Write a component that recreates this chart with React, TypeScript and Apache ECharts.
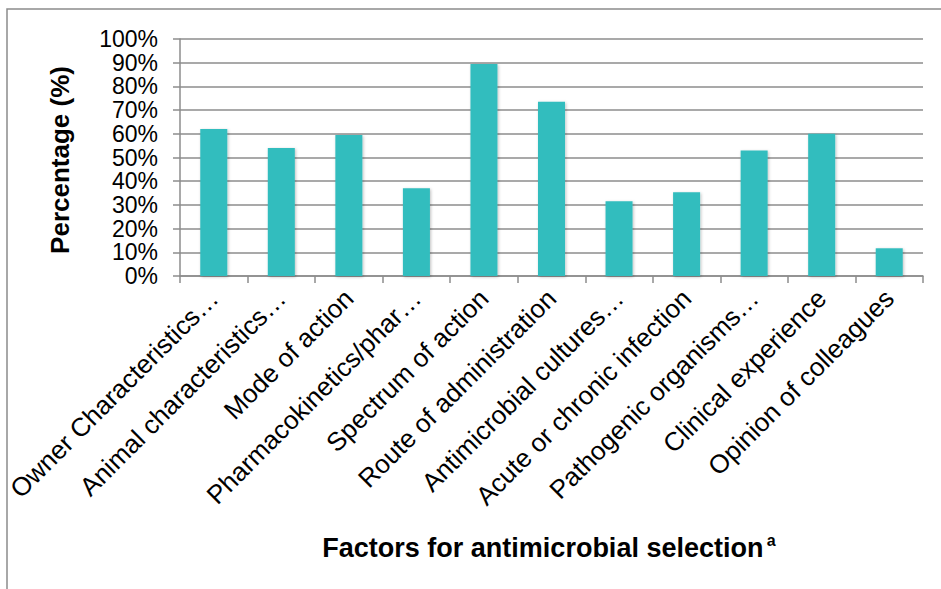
import React, { useEffect, useRef } from "react";
import * as echarts from "echarts";

const categories = [
  "Owner Characteristics…",
  "Animal characteristics…",
  "Mode of action",
  "Pharmacokinetics/phar…",
  "Spectrum of action",
  "Route of administration",
  "Antimicrobial cultures…",
  "Acute or chronic infection",
  "Pathogenic organisms…",
  "Clinical experience",
  "Opinion of colleagues",
];
const percentages = [62, 54, 59.5, 37, 89.5, 73.5, 31.5, 35.3, 53, 60, 11.7];
const yAxisTitle = "Percentage (%)";
const xAxisTitle = "Factors for antimicrobial selection";
const xAxisNote = "a";

const FONT = "'Liberation Sans', Arial, Helvetica, sans-serif";

export default function App() {
  const ref = useRef<HTMLDivElement>(null);
  useEffect(() => {
    if (!ref.current) return;
    const chart = echarts.init(ref.current, undefined, { renderer: "svg" });
    chart.setOption({
      animation: false,
      backgroundColor: "#ffffff",
      textStyle: { fontFamily: FONT },
      grid: { left: 180, right: 18, top: 39, bottom: 313, containLabel: false },
      xAxis: {
        type: "category",
        data: categories,
        axisLine: { show: true, lineStyle: { color: "#8c8c8c", width: 1.5 } },
        axisTick: { show: true, alignWithLabel: false, length: 7, lineStyle: { color: "#8c8c8c", width: 1.5 } },
        axisLabel: {
          rotate: 45,
          interval: 0,
          margin: 18,
          fontSize: 26,
          color: "#000",
          fontFamily: FONT,
        },
      },
      yAxis: {
        type: "value",
        min: 0,
        max: 100,
        interval: 10,
        axisLine: { show: true, lineStyle: { color: "#8c8c8c", width: 1.5 } },
        axisTick: { show: true, length: 7, lineStyle: { color: "#8c8c8c", width: 1.5 } },
        splitLine: { show: true, lineStyle: { color: "#8c8c8c", width: 1.5 } },
        axisLabel: {
          formatter: "{value}%",
          fontSize: 23,
          lineHeight: 23,
          color: "#000",
          margin: 22,
          fontFamily: FONT,
          showMinLabel: true,
          showMaxLabel: true,
          hideOverlap: false,
        },
      },
      series: [
        {
          type: "bar",
          data: percentages,
          barWidth: "40%",
          itemStyle: {
            color: "#33bdbe",
            shadowColor: "rgba(0,0,0,0.25)",
            shadowBlur: 3,
            shadowOffsetX: 1,
            shadowOffsetY: 1,
          },
        },
      ],
      graphic: [
        {
          type: "rect",
          shape: { x: 7, y: 9, width: 1000, height: 1000 },
          style: { fill: "none", stroke: "#8c8c8c", lineWidth: 1.5 },
          silent: true,
        },
        {
          type: "text",
          x: 60,
          y: 160,
          rotation: Math.PI / 2,
          style: {
            text: yAxisTitle,
            align: "center",
            verticalAlign: "middle",
            fontSize: 26,
            fontWeight: "bold",
            fontFamily: FONT,
            fill: "#000",
          },
        },
        {
          type: "text",
          x: 549,
          y: 548,
          style: {
            text: "{t|" + xAxisTitle + "} {s|" + xAxisNote + "}",
            align: "center",
            verticalAlign: "middle",
            fill: "#000",
            rich: {
              t: { fontSize: 27, fontWeight: "bold", fontFamily: FONT, fill: "#000", lineHeight: 32 },
              s: { fontSize: 16, fontWeight: "bold", fontFamily: FONT, fill: "#000", verticalAlign: "top", lineHeight: 32, padding: [0, 0, 12, 0] },
            },
          },
        },
      ],
    });
    return () => chart.dispose();
  }, []);
  return (
    <div
      ref={ref}
      style={{ position: "fixed", left: 0, top: 0, width: 941, height: 589 }}
    />
  );
}
